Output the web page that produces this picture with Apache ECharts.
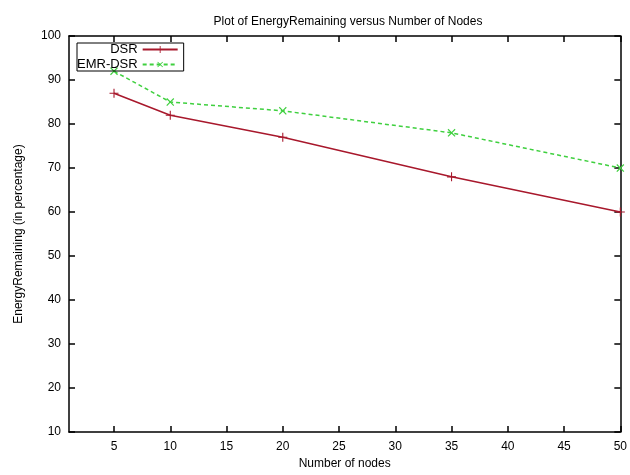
<!DOCTYPE html>
<html>
<head>
<meta charset="utf-8">
<script src="https://cdn.jsdelivr.net/npm/echarts@6/dist/echarts.min.js"></script>
<style>html,body{margin:0;padding:0;background:#fff}#c{width:630px;height:475px}</style>
</head>
<body>
<div id="c"></div>
<script>
var nodes = [5, 10, 20, 35, 50];
var dsr = [87, 82, 77, 68, 60];
var emrDsr = [92, 85, 83, 78, 70];
var xTicks = [5, 10, 15, 20, 25, 30, 35, 40, 45, 50];
var seriesNames = ['DSR', 'EMR-DSR'];
var titleText = 'Plot of EnergyRemaining versus Number of Nodes';
var xName = 'Number of nodes';
var yName = 'EnergyRemaining (in percentage)';

var FONT = 'Liberation Sans, Arial, sans-serif';
var plus = 'path://M4.4,0H5.6V4.4H10V5.6H5.6V10H4.4V5.6H0V4.4H4.4Z';

function pairs(xs, ys) { return xs.map(function (x, i) { return [x, ys[i]]; }); }

var chart = echarts.init(document.getElementById('c'), null, {renderer: 'canvas'});
var axisLineStyle = {color: '#000', width: 1.5};
var txt = {fontFamily: FONT, fontSize: 12, color: '#000'};
chart.setOption({
  animation: false,
  backgroundColor: '#fff',
  title: {
    text: titleText, left: 343, top: 11, textAlign: 'center',
    textStyle: {fontFamily: FONT, fontSize: 12, fontWeight: 'normal', color: '#000'}
  },
  grid: {left: 69, right: 6, top: 36, bottom: 42, show: false},
  legend: {
    orient: 'vertical', left: 77, top: 43, align: 'right',
    itemWidth: 35, itemHeight: 9, itemGap: 2,
    padding: [0, 5, 0, 0],
    borderColor: '#000', borderWidth: 1,
    textStyle: {fontFamily: FONT, fontSize: 13, color: '#000', width: 46, align: 'right'},
    data: seriesNames
  },
  xAxis: [{
    type: 'value', min: 1, max: 50, position: 'bottom',
    name: xName, nameLocation: 'middle', nameGap: 25,
    nameTextStyle: txt,
    axisLine: {show: true, lineStyle: axisLineStyle},
    axisTick: {show: true, inside: true, length: 6, customValues: xTicks, lineStyle: {color: '#000', width: 1.5}},
    axisLabel: Object.assign({customValues: xTicks, margin: 9}, txt),
    splitLine: {show: false}
  }, {
    type: 'value', min: 1, max: 50, position: 'top',
    axisLine: {show: true, lineStyle: axisLineStyle},
    axisTick: {show: true, inside: true, length: 6, customValues: xTicks, lineStyle: {color: '#000', width: 1.5}},
    axisLabel: {show: false},
    splitLine: {show: false}
  }],
  yAxis: [{
    type: 'value', min: 10, max: 100, interval: 10, position: 'left',
    name: yName, nameLocation: 'middle', nameGap: 44,
    nameTextStyle: txt,
    axisLine: {show: true, lineStyle: axisLineStyle},
    axisTick: {show: true, inside: true, length: 6, lineStyle: {color: '#000', width: 1.5}},
    axisLabel: Object.assign({margin: 8}, txt),
    splitLine: {show: false}
  }, {
    type: 'value', min: 10, max: 100, interval: 10, position: 'right',
    axisLine: {show: true, lineStyle: axisLineStyle},
    axisTick: {show: true, inside: true, length: 6, lineStyle: {color: '#000', width: 1.5}},
    axisLabel: {show: false},
    splitLine: {show: false}
  }],
  series: [{
    name: seriesNames[0], type: 'line', data: pairs(nodes, dsr),
    symbol: plus, symbolSize: 9,
    itemStyle: {color: '#a8182c'},
    lineStyle: {color: '#a8182c', width: 1.5}
  }, {
    name: seriesNames[1], type: 'line', data: pairs(nodes, emrDsr),
    symbol: plus, symbolSize: 10, symbolRotate: 45,
    itemStyle: {color: '#3fd03f'},
    lineStyle: {color: '#3fd03f', width: 1.5, type: [4, 3]}
  }]
});
</script>
</body>
</html>
